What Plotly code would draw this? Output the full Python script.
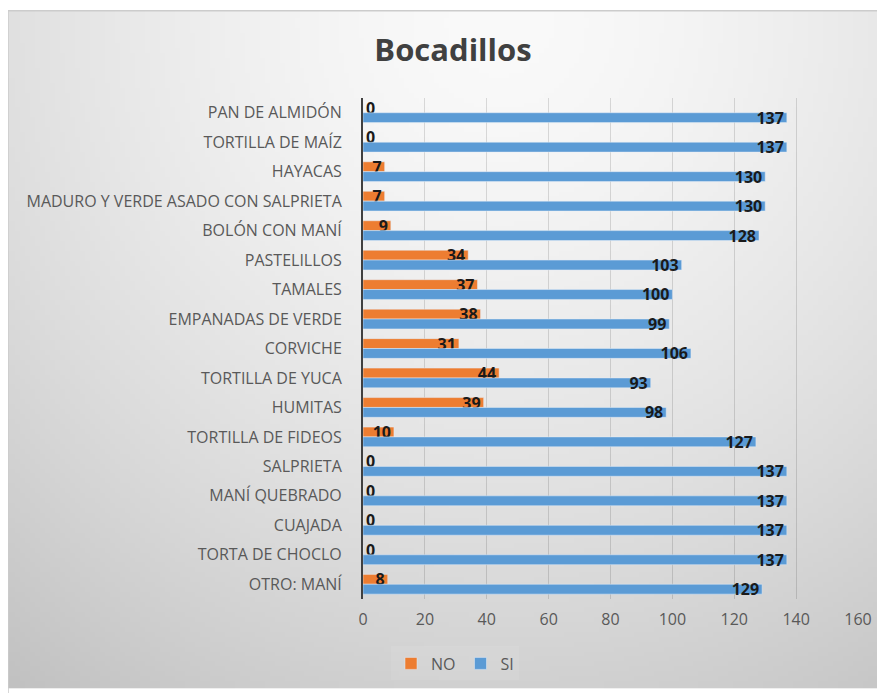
import base64
import struct
import zlib

import numpy as np
import plotly.graph_objects as go

# data (top to bottom)
categories = [
    'PAN DE ALMIDÓN', 'TORTILLA DE MAÍZ', 'HAYACAS',
    'MADURO Y VERDE ASADO CON SALPRIETA', 'BOLÓN CON MANÍ', 'PASTELILLOS',
    'TAMALES', 'EMPANADAS DE VERDE', 'CORVICHE', 'TORTILLA DE YUCA',
    'HUMITAS', 'TORTILLA DE FIDEOS', 'SALPRIETA', 'MANÍ QUEBRADO',
    'CUAJADA', 'TORTA DE CHOCLO', 'OTRO: MANÍ',
]
no_values = [0, 0, 7, 7, 9, 34, 37, 38, 31, 44, 39, 10, 0, 0, 0, 0, 8]
si_values = [137, 137, 130, 130, 128, 103, 100, 99, 106, 93, 98, 127, 137, 137, 137, 137, 129]

NO_COLOR = '#ED7D31'
SI_COLOR = '#5B9BD5'
FONT = 'Open Sans'

# page is 885 x 693, the plot div sits at (8, 8) because of the body margin
OFF = 8
W, H = 885 - OFF, 693 - OFF
# plot area in page pixels
L, R, T, B = 363, 858, 98, 603


def gradient_png(w, h):
    # radial grey fill like the Excel chart area, page coords 8..885 x 10..693
    yy, xx = np.mgrid[0:h, 0:w]
    px = OFF + xx / (w - 1) * (885 - OFF)
    py = 10 + yy / (h - 1) * (693 - 10)
    d = np.hypot(px - 500, py - 20)
    val = 250 - 55 * (d / 816) ** 1.5
    arr = np.clip(val, 0, 255).astype(np.uint8)
    raw = b''.join(b'\x00' + row.tobytes() for row in arr)

    def chunk(tag, data):
        c = struct.pack('>I', len(data)) + tag + data
        return c + struct.pack('>I', zlib.crc32(tag + data) & 0xffffffff)

    png = (b'\x89PNG\r\n\x1a\n'
           + chunk(b'IHDR', struct.pack('>IIBBBBB', w, h, 8, 0, 0, 0, 0))
           + chunk(b'IDAT', zlib.compress(raw))
           + chunk(b'IEND', b''))
    return 'data:image/png;base64,' + base64.b64encode(png).decode()


def px_x(p):
    return (p - L) / (R - L)


def px_y(p):
    return (B - p) / (B - T)


def text_pos(values):
    return ['outside' if v == 0 else 'inside' for v in values]


label_font = dict(family=FONT, size=16, color='#1a1a1a', weight='bold')

fig = go.Figure()
for name, vals, color in [('NO', no_values, NO_COLOR), ('SI', si_values, SI_COLOR)]:
    fig.add_trace(go.Bar(
        y=categories, x=vals, name=name, orientation='h',
        marker=dict(color=color),
        text=[str(v) for v in vals],
        textposition=text_pos(vals),
        textangle=0,
        insidetextanchor='end',
        constraintext='none',
        cliponaxis=False,
        insidetextfont=label_font,
        outsidetextfont=label_font,
    ))

fig.update_layout(
    width=W, height=H,
    margin=dict(l=L - OFF, r=885 - R, t=T - OFF, b=693 - B),
    paper_bgcolor='white',
    plot_bgcolor='rgba(0,0,0,0)',
    barmode='group',
    bargap=0.33,
    bargroupgap=0,
    font=dict(family=FONT, size=16, color='#595959'),
    title=dict(
        text='Bocadillos',
        font=dict(family=FONT, size=31, color='#404040', weight='bold'),
        x=(453 - OFF) / W, xref='container', xanchor='center',
        y=1 - (50 - OFF) / H, yref='container', yanchor='middle',
    ),
    xaxis=dict(
        range=[0, 160], dtick=20, tick0=0,
        showgrid=True, gridcolor='rgba(0,0,0,0.13)', gridwidth=1,
        zeroline=False, showline=False, ticks='',
        ticklabelstandoff=9,
        tickfont=dict(family=FONT, size=16, color='#595959'),
    ),
    yaxis=dict(
        autorange='reversed',
        showgrid=False, zeroline=False,
        showline=True, linecolor='#404040', linewidth=2,
        ticks='', ticklabelstandoff=16,
        tickfont=dict(family=FONT, size=16, color='#595959'),
    ),
    legend=dict(
        orientation='h',
        x=px_x(455), xanchor='center',
        y=px_y(668), yanchor='middle',
        font=dict(family=FONT, size=16, color='#595959'),
        bgcolor='rgba(255,255,255,0.08)',
        itemwidth=30,
        traceorder='normal',
    ),
    images=[dict(
        source=gradient_png(176, 137),
        xref='paper', yref='paper',
        x=px_x(OFF), y=px_y(10),
        sizex=(885 - OFF) / (R - L), sizey=(693 - 10) / (B - T),
        sizing='stretch', layer='below',
    )],
    shapes=[dict(
        type='rect', xref='paper', yref='paper',
        x0=px_x(OFF), x1=px_x(900), y0=px_y(710), y1=px_y(10),
        line=dict(color='#cccccc', width=1.5), fillcolor='rgba(0,0,0,0)',
        layer='below',
    )],
)

fig.write_html('out.html')
